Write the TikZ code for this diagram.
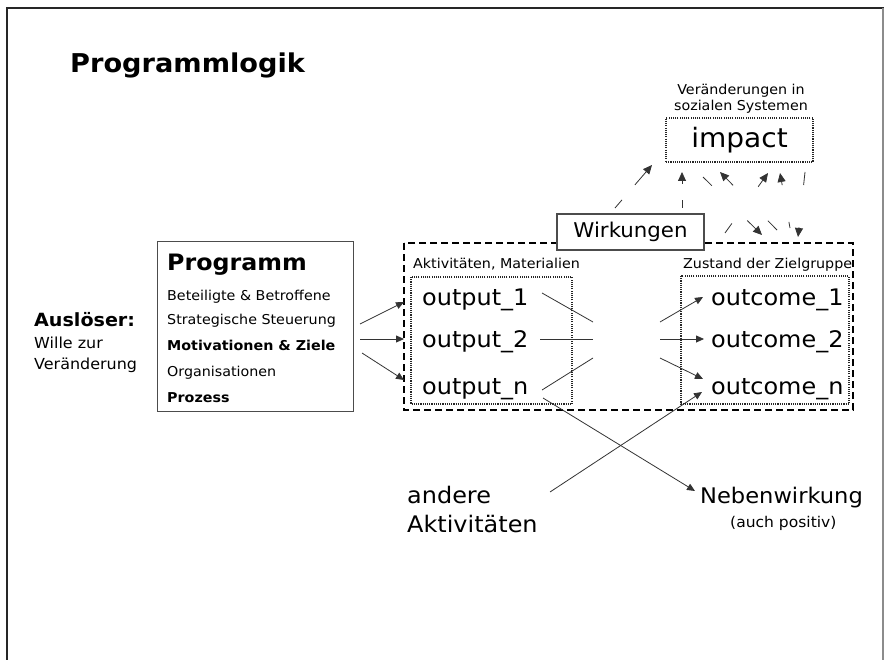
\documentclass[tikz,border=0pt]{standalone}
\usepackage{fontspec}
\setmainfont[FakeStretch=1.05]{DejaVu Sans}
\usetikzlibrary{arrows.meta,calc}
\begin{document}
\begin{tikzpicture}[x=1pt,y=-1pt,
  lbl/.style={inner sep=0pt, anchor=base west, text=black},
  clbl/.style={inner sep=0pt, anchor=base, text=black},
  bigf/.style={font=\fontsize{22.8}{25}\selectfont},
  smallf/.style={font=\fontsize{13.6}{16}\selectfont},
  conn/.style={draw=black!80, line width=0.8pt},
  arr/.style={conn, -{Triangle[length=8pt,width=7pt]}},
  barr/.style={conn, -{Triangle[length=9pt,width=8pt]}},
  dotbox/.style={draw=black!85, line width=1.2pt, dash pattern=on 1.1pt off 1.1pt},
  dashbox/.style={draw=black, line width=1.7pt, dash pattern=on 7pt off 4pt}]
\useasboundingbox (0,0) rectangle (885,660);
\fill[white] (0,0) rectangle (885,660);
% frame
\draw[line width=2.2pt, black!85] (7,660) -- (7,8) -- (884,8);
\draw[line width=1.4pt, black!45] (883,8) -- (883,660);

% title
\node[lbl, font=\bfseries\fontsize{25.9}{29}\selectfont] (title) at (70,73) {Programmlogik};

% Ausloeser
\node[lbl, font=\bfseries\fontsize{18.2}{21}\selectfont] (ausl) at (34,326) {Auslöser:};
\node[lbl, font=\fontsize{15.2}{18}\selectfont] (wille) at (34,348) {Wille zur};
\node[lbl, font=\fontsize{15.2}{18}\selectfont] (veraend) at (34,369) {Veränderung};

% Programm box
\node[draw=black!70, line width=1.3pt, anchor=north west, minimum width=196pt, minimum height=170pt, inner sep=0pt] (prog) at (157,241) {};
\node[lbl, font=\bfseries\fontsize{22.6}{25}\selectfont] (progt) at (167,270) {Programm};
\node[lbl, smallf] (pl1) at (167,300) {Beteiligte \& Betroffene};
\node[lbl, smallf] (pl2) at (167,324) {Strategische Steuerung};
\node[lbl, font=\bfseries\fontsize{13.6}{16}\selectfont] (pl3) at (167,350) {Motivationen \& Ziele};
\node[lbl, smallf] (pl4) at (167,376) {Organisationen};
\node[lbl, font=\bfseries\fontsize{13.6}{16}\selectfont] (pl5) at (167,402) {Prozess};

% outer dashed box and inner dotted boxes
\draw[dashbox] (404,243) rectangle (853,410);
\draw[dotbox] (411,277) rectangle (572,404);
\draw[dotbox] (681,276) rectangle (849,404);
\node[lbl, smallf] (akt) at (413,268) {Aktivitäten, Materialien};
\node[lbl, smallf] (zust) at (683,268) {Zustand der Zielgruppe};

% Wirkungen box
\node[draw=black!70, line width=1.2pt, fill=white, minimum width=147pt, minimum height=36pt, inner sep=0pt, font=\fontsize{20.3}{23}\selectfont] (wirk) at (630.5,232) {Wirkungen};

% impact
\node[clbl, smallf] (ver1) at (741,95) {Veränderungen in};
\node[clbl, smallf] (ver2) at (741,111) {sozialen Systemen};
\node[dotbox, minimum width=147pt, minimum height=44pt, inner sep=0pt, font=\fontsize{26.7}{29}\selectfont] (impact) at (739.5,140) {impact};

% outputs / outcomes
\node[lbl, bigf] (out1) at (422,305) {output\_1};
\node[lbl, bigf] (out2) at (422,347) {output\_2};
\node[lbl, bigf] (outn) at (422,394) {output\_n};
\node[lbl, bigf] (oc1) at (711,305) {outcome\_1};
\node[lbl, bigf] (oc2) at (711,347) {outcome\_2};
\node[lbl, bigf] (ocn) at (711,394) {outcome\_n};

% bottom labels
\node[lbl, bigf] (and1) at (407,503) {andere};
\node[lbl, bigf] (and2) at (407,532) {Aktivitäten};
\node[lbl, font=\fontsize{21.5}{24}\selectfont] (neben) at (700,503) {Nebenwirkung};
\node[lbl, font=\fontsize{14.8}{17}\selectfont] (pos) at (730,527) {(auch positiv)};

% arrows Programm -> outputs
\coordinate (pa) at (360,324); \coordinate (pb) at (360,339); \coordinate (pc) at (362,353);
\coordinate (ia) at (404,302); \coordinate (ib) at (404,339); \coordinate (ic) at (404,380);
\draw[arr] (pa) -- (ia);
\draw[arr] (pb) -- (ib);
\draw[arr] (pc) -- (ic);

% output lines (interrupted)
\coordinate (o1s) at (542,293); \coordinate (o1e) at (593,322);
\coordinate (o2s) at (540,339); \coordinate (o2e) at (593,339);
\coordinate (ons) at (542,390); \coordinate (one) at (593,358);
\draw[conn] (o1s) -- (o1e);
\draw[conn] (o2s) -- (o2e);
\draw[conn] (ons) -- (one);
\coordinate (c1s) at (660,322); \coordinate (c1e) at (703,297);
\coordinate (c2s) at (660,339); \coordinate (c2e) at (704,339);
\coordinate (cns) at (660,358); \coordinate (cne) at (703,379);
\draw[arr] (c1s) -- (c1e);
\draw[arr] (c2s) -- (c2e);
\draw[arr] (cns) -- (cne);

% side effects and other activities
\coordinate (nbs) at (543,398); \coordinate (nbe) at (695,491);
\draw[arr] (nbs) -- (nbe);
\coordinate (aas) at (550,492); \coordinate (aae) at (702,392);
\draw[arr] (aas) -- (aae);

% broken arrows between Wirkungen/outcomes and impact
\foreach \ax/\ay/\bx/\by/\f/\g in {
  615/208/652/165/0.19/0.54,
  682/208/682/172/0.22/0.67,
  703/177/762/235/0.15/0.75,
  777/230/720/172/0.16/0.77,
  725/233/768/173/0.16/0.77,
  790/228/780/173/0.11/0.78,
  805/172/798/237/0.20/0.85}{
  \coordinate (bs) at (\ax,\ay);
  \coordinate (be) at (\bx,\by);
  \draw[conn] (bs) -- ($(bs)!\f!(be)$);
  \draw[barr] ($(bs)!\g!(be)$) -- (be);
}
\end{tikzpicture}
\end{document}
